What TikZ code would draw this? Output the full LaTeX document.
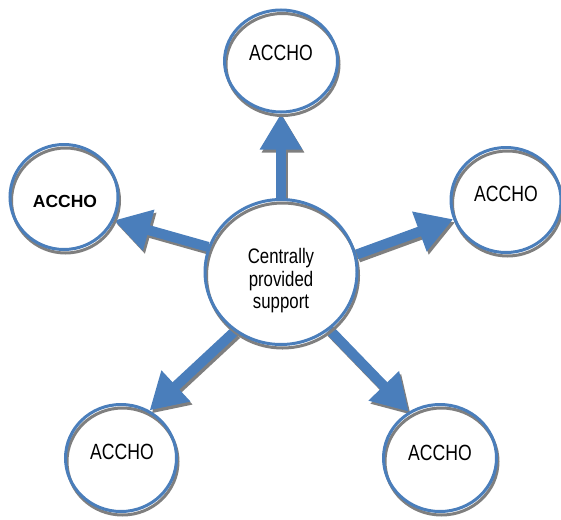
\documentclass[tikz,border=0pt]{standalone}
\usepackage{fontspec}
\setmainfont{Liberation Sans}[FakeStretch=0.8]
\newfontfamily\widesans{Liberation Sans}
\usetikzlibrary{arrows.meta,shapes.geometric,backgrounds}
\definecolor{rimblue}{HTML}{4A7EBB}
\definecolor{shadegray}{HTML}{7F7F7F}
\tikzset{
  ring/.style={ellipse, inner sep=0pt,
    preaction={fill=white},
    preaction={draw=shadegray, line width=3pt,
      transform canvas={shift={(1.5pt,-3.5pt)}}},
    draw=rimblue, line width=3pt},
  outer/.style={ring, minimum width=110pt, minimum height=105pt},
  caption/.style={font=\fontsize{22}{24}\selectfont, inner sep=0pt},
  flow/.style={draw=rimblue, line width=10pt,
    -{Triangle[width=40pt,length=36pt]}},
  flowshade/.style={draw=shadegray, line width=10pt,
    -{Triangle[width=40pt,length=36pt]},
    transform canvas={shift={(2pt,-3pt)}}}
}
\begin{document}
\begin{tikzpicture}[x=1pt,y=-1pt]
\useasboundingbox (0,0) rectangle (561,519);

% hub and the five satellite circles
\node[ring, minimum width=152pt, minimum height=145pt] (hub) at (281,272) {};
\node[outer, minimum width=113pt, minimum height=102pt] (top) at (281,61) {};
\node[outer, minimum width=108pt] (west) at (64,197) {};
\node[outer] (east) at (506,200) {};
\node[outer, minimum width=111pt, minimum height=107pt] (sw) at (121,458) {};
\node[outer, minimum width=113pt, minimum height=107pt] (se) at (440,458) {};

% labels
\node[caption, align=center, font=\fontsize{21}{22.5}\selectfont] (hubtext) at (281,281)
  {Centrally\\provided\\support};
\node[caption] (toptext) at (281,53) {ACCHO};
\node[caption, font=\widesans\bfseries\fontsize{17.5}{20}\selectfont] (westtext) at (65,201) {ACCHO};
\node[caption] (easttext) at (506,194) {ACCHO};
\node[caption] (swtext) at (122,452) {ACCHO};
\node[caption] (setext) at (440,453) {ACCHO};

% block arrows from the hub to each circle, with drop shadows
\begin{pgfonlayer}{background}
  \foreach \a/\b in {hub.90/top.270, hub.161/west.335, hub.13/east.200,
                     hub.232/sw.59, hub.310/se.124} {
    \draw[flowshade] (\a) -- (\b);
    \draw[flow] (\a) -- (\b);
  }
\end{pgfonlayer}
\end{tikzpicture}
\end{document}
